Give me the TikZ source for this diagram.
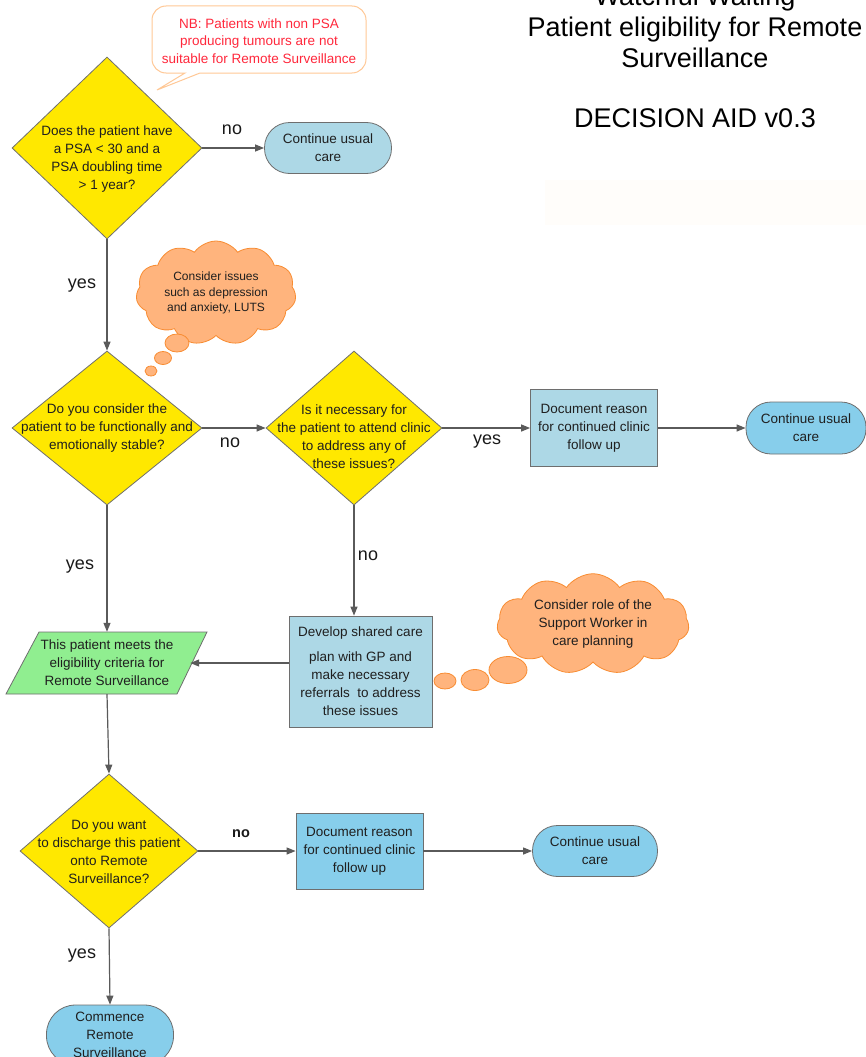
\documentclass[tikz,border=0pt]{standalone}
\usepackage{fontspec}
\setmainfont{Liberation Sans}
\usetikzlibrary{shapes.geometric,shapes.symbols,arrows.meta,calc}
\definecolor{yel}{RGB}{255,232,0}
\definecolor{lblue}{RGB}{173,216,230}
\definecolor{sblue}{RGB}{135,206,235}
\definecolor{lgreen}{RGB}{144,238,144}
\definecolor{cloudfill}{RGB}{255,180,125}
\definecolor{cloudline}{RGB}{248,140,50}
\definecolor{nbline}{RGB}{255,200,150}
\definecolor{nbtext}{RGB}{255,40,60}
\definecolor{edgec}{RGB}{110,110,110}
\definecolor{arrowc}{RGB}{90,90,90}
\definecolor{faint}{RGB}{255,253,250}
\begin{document}
\begin{tikzpicture}[x=1pt,y=-1pt,
  every node/.style={font=\fontsize{13.5}{18}\selectfont, text=black!88, align=center, inner sep=0pt},
  dia/.style={diamond, draw=edgec, fill=yel, line width=0.8pt, inner sep=0pt},
  term/.style={rectangle, rounded corners=25pt, draw=edgec, line width=0.8pt, minimum width=127pt, minimum height=51pt},
  box/.style={rectangle, draw=edgec, line width=0.8pt, minimum width=127pt, minimum height=77pt},
  thought/.style={cloud, cloud puffs=11, cloud puff arc=110, draw=cloudline, fill=cloudfill, line width=0.8pt},
  bubble/.style={draw=cloudline, fill=cloudfill, line width=0.8pt},
  lbl/.style={font=\fontsize{18}{20}\selectfont, text=black!90},
  blbl/.style={font=\fontsize{14.5}{16}\bfseries\selectfont, text=black!90},
  arr/.style={draw=arrowc, line width=1.2pt, -{Triangle[length=9pt,width=7pt]}},
  title/.style={font=\fontsize{27}{31}\selectfont, text=black}
]
\useasboundingbox (0,0) rectangle (866,1057);
\clip (0,0) rectangle (866,1057);

% title
\node[title] (title) at (695,27) {Watchful Waiting\\Patient eligibility for Remote\\Surveillance};
\node[title] (aid) at (695,118) {DECISION AID v0.3};
\fill[faint] (545,180) rectangle (866,225);

% NB callout
\draw[draw=nbline, fill=white, line width=1pt] (157,90) -- (185,73) [rounded corners=14pt] -- (152,73) -- (152,6) -- (366,6) -- (366,73) [sharp corners] -- (200,73) -- cycle;
\node[text=nbtext, font=\fontsize{13.5}{17.5}\selectfont] (nb) at (259,41) {NB: Patients with non PSA\\producing tumours are not\\suitable for Remote Surveillance};

% diamonds
\node[dia, minimum width=190pt, minimum height=182pt] (d1) at (107,148) {};
\node (d1t) at (107,159) {Does the patient have\\a PSA < 30 and a\\PSA doubling time\\> 1 year?};
\node[dia, minimum width=190pt, minimum height=154pt] (d2) at (107,428) {};
\node (d2t) at (107,428) {Do you consider the\\patient to be functionally and\\emotionally stable?};
\node[dia, minimum width=176pt, minimum height=154pt] (d3) at (354,428) {};
\node (d3t) at (354,437) {Is it necessary for\\the patient to attend clinic\\to address any of\\these issues?};
\node[dia, minimum width=178pt, minimum height=154pt] (d4) at (109,851) {};
\node (d4t) at (109,852) {Do you want\\to discharge this patient\\onto Remote\\Surveillance?};

% terminals and boxes
\node[term, fill=lblue] (t1) at (328,148) {Continue usual\\care};
\node[box, fill=lblue] (doc1) at (594,428) {Document reason\\for continued clinic\\follow up};
\node[term, fill=sblue, minimum width=120pt, minimum height=52pt] (t2) at (806,428) {Continue usual\\care};
\node[box, fill=lblue, minimum width=143pt, minimum height=111pt] (shared) at (360.5,671.5) {Develop shared care\\[7pt]plan with GP and\\make necessary\\referrals~ to address\\these issues};
\node[box, fill=sblue, minimum height=76pt] (doc2) at (359.5,851) {Document reason\\for continued clinic\\follow up};
\node[term, fill=sblue, minimum width=125pt] (t3) at (595,851) {Continue usual\\care};
\node[term, fill=sblue, minimum height=60pt, rounded corners=29pt] (t4) at (110,1035) {Commence\\Remote\\Surveillance};

% parallelogram
\draw[draw=edgec, fill=lgreen, line width=0.8pt] (39,632) -- (207,632) -- (177,694) -- (6,694) -- cycle;
\node[minimum width=166pt, minimum height=62pt] (par) at (107,663) {This patient meets the\\eligibility criteria for\\Remote Surveillance};

% clouds
\node[thought, aspect=1.7, minimum width=160pt, minimum height=97pt, font=\fontsize{12}{15.5}\selectfont] (c1) at (216,293) {Consider issues\\such as depression\\and anxiety, LUTS};
\draw[bubble] (177,343) ellipse (12pt and 9pt);
\draw[bubble] (163,358) ellipse (8.5pt and 6.5pt);
\draw[bubble] (151,371) ellipse (6pt and 5pt);
\node[thought, aspect=2.1, minimum width=192pt, minimum height=92pt] (c2) at (593,624) {Consider role of the\\Support Worker in\\care planning};
\draw[bubble] (445,681) ellipse (11pt and 8pt);
\draw[bubble] (475,680) ellipse (14pt and 10.5pt);
\draw[bubble] (508,670) ellipse (19pt and 13.5pt);

% connectors
\draw[arr] (d1.east) -- (t1.west);
\draw[arr] (d1.south) -- (d2.north);
\draw[arr] (d2.east) -- (d3.west);
\draw[arr] (d3.east) -- (doc1.west);
\draw[arr] (doc1.east) -- (t2.west);
\draw[arr] (d2.south) -- (par.north);
\draw[arr] (d3.south) -- (d3.south |- shared.north);
\draw[arr] (shared.west |- par.east) -- (par.east);
\draw[arr] (par.south) -- (d4.north);
\draw[arr] (d4.east) -- (d4.east -| doc2.west);
\draw[arr] (doc2.east) -- (doc2.east -| t3.west);
\draw[arr] (d4.south) -- (t4.north);

% labels
\node[lbl] (l1) at (232,130) {no};
\node[lbl] (l2) at (82,286) {yes};
\node[lbl] (l3) at (230,443) {no};
\node[lbl] (l4) at (487,442) {yes};
\node[lbl] (l5) at (368,556) {no};
\node[lbl] (l6) at (80,567) {yes};
\node[blbl] (l7) at (241,834) {no};
\node[lbl] (l8) at (82,956) {yes};
\end{tikzpicture}
\end{document}
